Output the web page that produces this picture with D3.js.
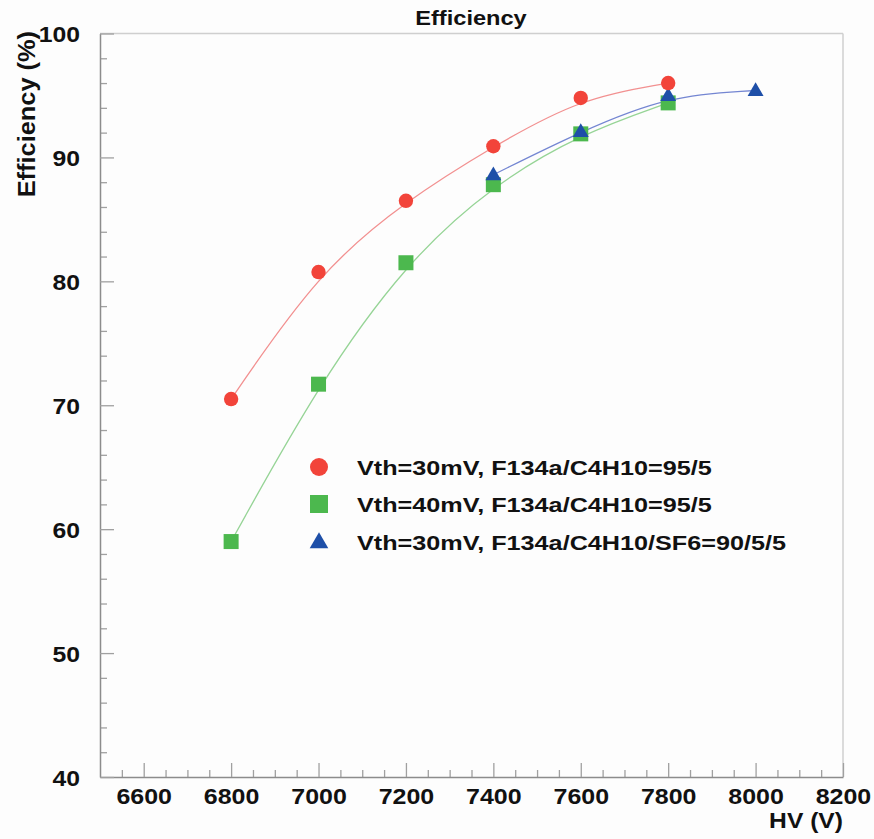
<!DOCTYPE html>
<html>
<head>
<meta charset="utf-8">
<script src="https://cdn.jsdelivr.net/npm/d3@7"></script>
<style>
  body { margin: 0; background: #fdfdfd; }
  svg { display: block; font-family: "Liberation Sans", Arial, sans-serif; font-weight: bold; }
</style>
</head>
<body>
<svg id="fig" width="874" height="839"></svg>
<script>
// data
const hv30 = [6800, 7000, 7200, 7400, 7600, 7800];
const eff30 = [70.5, 80.75, 86.5, 90.9, 94.8, 96.0];
const hv40 = [6800, 7000, 7200, 7400, 7600, 7800];
const eff40 = [59.0, 71.7, 81.5, 87.8, 91.9, 94.4];
const hvSF6 = [7400, 7600, 7800, 8000];
const effSF6 = [88.6, 92.1, 95.0, 95.4];

const legendLabels = [
    "Vth=30mV, F134a/C4H10=95/5",
    "Vth=40mV, F134a/C4H10=95/5",
    "Vth=30mV, F134a/C4H10/SF6=90/5/5"
];
const xMajor = [6600, 6800, 7000, 7200, 7400, 7600, 7800, 8000, 8200];
const yMajor = [40, 50, 60, 70, 80, 90, 100];

const padL = 100, padR = 843, padT = 33.5, padB = 777;

let svg = d3.select("#fig");

let x = d3.scaleLinear().domain([6500, 8200]).range([padL, padR]);
let y = d3.scaleLinear().domain([40, 100]).range([padB, padT]);

// the original's text is a bit wider than Liberation, stretch it
function wideText(g, px, py, sx, size, anchor, str) {
    return g.append("text")
        .attr("transform", "translate(" + px + "," + py + ") scale(" + sx + ",1)")
        .attr("text-anchor", anchor)
        .style("font-size", size + "px")
        .attr("fill", "#111")
        .text(str);
}

// frame (top / right lighter)
svg.append("line")
    .attr("x1", padL).attr("x2", padR).attr("y1", padT).attr("y2", padT)
    .attr("stroke", "#cfcfcf").attr("stroke-width", 1.5);
svg.append("line")
    .attr("x1", padR).attr("x2", padR).attr("y1", padT).attr("y2", padB)
    .attr("stroke", "#cfcfcf").attr("stroke-width", 1.5);

// minor ticks
let xMinor = d3.range(6550, 8200, 50).filter(function (v) { return xMajor.indexOf(v) < 0; });
let yMinor = d3.range(42, 100, 2).filter(function (v) { return yMajor.indexOf(v) < 0; });

svg.append("g")
    .attr("transform", "translate(0," + padB + ")")
    .call(d3.axisBottom(x).tickValues(xMinor).tickSize(-7).tickFormat(""))
    .call(function (g) { g.select(".domain").remove(); });
svg.append("g")
    .attr("transform", "translate(" + padL + ",0)")
    .call(d3.axisLeft(y).tickValues(yMinor).tickSize(-7).tickFormat(""))
    .call(function (g) { g.select(".domain").remove(); });

// major ticks + labels
let xAxis = svg.append("g")
    .attr("transform", "translate(0," + padB + ")")
    .call(d3.axisBottom(x).tickValues(xMajor).tickSize(-14).tickSizeOuter(0).tickPadding(11).tickFormat(d3.format("d")));
let yAxis = svg.append("g")
    .attr("transform", "translate(" + padL + ",0)")
    .call(d3.axisLeft(y).tickValues(yMajor).tickSize(-14).tickSizeOuter(0).tickPadding(18).tickFormat(d3.format("d")));

svg.selectAll(".tick line").attr("stroke", "#a0a0a0").attr("stroke-width", 1.3);
svg.selectAll(".domain").attr("stroke", "#8c8c8c").attr("stroke-width", 1.5);
svg.selectAll(".tick text")
    .attr("fill", "#111")
    .style("font-size", "22.5px");
xAxis.selectAll(".tick text").attr("transform", "scale(1.11,1)");
yAxis.selectAll(".tick text")
    .attr("dy", "0.36em")
    .attr("x", -20 / 1.1)
    .attr("transform", "scale(1.1,1)");

// titles
wideText(svg, 471, 25, 1.18, 20, "middle", "Efficiency");

svg.append("text")
    .attr("transform", "translate(35,31) rotate(-90) scale(1.08,1)")
    .attr("text-anchor", "end")
    .style("font-size", "23.5px")
    .attr("fill", "#111")
    .text("Efficiency (%)");

wideText(svg, 843, 828, 1.12, 22, "end", "HV (V)");

// fit curves
let line = d3.line()
    .x(function (d) { return x(d[0]); })
    .y(function (d) { return y(d[1]); })
    .curve(d3.curveBasis);

svg.append("path")
    .datum(d3.zip(hv30, eff30))
    .attr("d", line)
    .attr("fill", "none").attr("stroke", "#f29090").attr("stroke-width", 1.3);
svg.append("path")
    .datum(d3.zip(hv40, eff40))
    .attr("d", line)
    .attr("fill", "none").attr("stroke", "#96d496").attr("stroke-width", 1.3);
svg.append("path")
    .datum(d3.zip(hvSF6, effSF6))
    .attr("d", line)
    .attr("fill", "none").attr("stroke", "#7486d2").attr("stroke-width", 1.3);

// markers
const red = "#f2443a", green = "#4cb84e", blue = "#1e4fa8";
let tri = d3.symbol().type(d3.symbolTriangle);

svg.append("g").selectAll("rect")
    .data(d3.zip(hv40, eff40))
    .join("rect")
    .attr("x", function (d) { return x(d[0]) - 7.5; })
    .attr("y", function (d) { return y(d[1]) - 7.5; })
    .attr("width", 15).attr("height", 15)
    .attr("fill", green);

svg.append("g").selectAll("path")
    .data(d3.zip(hvSF6, effSF6))
    .join("path")
    .attr("d", tri.size(110))
    .attr("transform", function (d) { return "translate(" + x(d[0]) + "," + (y(d[1]) + 1) + ")"; })
    .attr("fill", blue);

svg.append("g").selectAll("circle")
    .data(d3.zip(hv30, eff30))
    .join("circle")
    .attr("cx", function (d) { return x(d[0]); })
    .attr("cy", function (d) { return y(d[1]); })
    .attr("r", 7.2)
    .attr("fill", red);

// legend
let legend = svg.append("g");
let rowY = [467, 504, 542];
legend.append("circle").attr("cx", 319).attr("cy", rowY[0]).attr("r", 9).attr("fill", red);
legend.append("rect").attr("x", 310).attr("y", rowY[1] - 9).attr("width", 18).attr("height", 18).attr("fill", green);
legend.append("path").attr("d", tri.size(150)).attr("transform", "translate(319," + (rowY[2] + 1) + ")").attr("fill", blue);

legendLabels.forEach(function (d, i) {
    wideText(legend, 357, rowY[i] + 7.5, 1.2, 21, "start", d);
});
</script>
</body>
</html>
